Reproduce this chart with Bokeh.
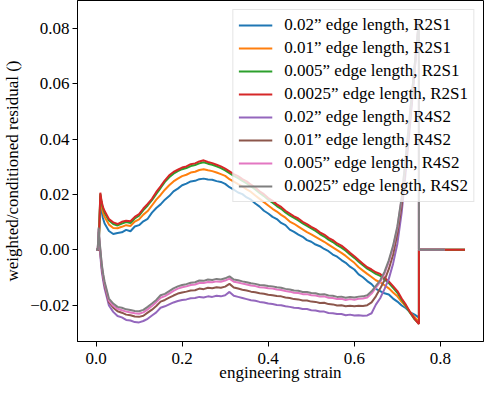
from bokeh.plotting import figure
from bokeh.models import FixedTicker, CustomJSTickFormatter, Range1d
from bokeh.embed import file_html
from bokeh.resources import INLINE

# ---------------- data ----------------
x_ticks = [0.0, 0.2, 0.4, 0.6, 0.8]
y_ticks = [-0.02, 0.0, 0.02, 0.04, 0.06, 0.08]

x_main = [0.02, 0.03, 0.04, 0.05, 0.06, 0.07, 0.08, 0.09, 0.10, 0.11, 0.12, 0.13,
          0.14, 0.15, 0.16, 0.17, 0.18, 0.19, 0.20, 0.21, 0.22, 0.23, 0.24, 0.25,
          0.26, 0.27, 0.28, 0.29, 0.30, 0.31, 0.32, 0.33, 0.34, 0.35, 0.36, 0.37,
          0.38, 0.39, 0.40, 0.41, 0.42, 0.43, 0.44, 0.45, 0.46, 0.47, 0.48, 0.49,
          0.50, 0.51, 0.52, 0.53, 0.54, 0.55, 0.56, 0.57, 0.58, 0.59, 0.60, 0.61,
          0.62, 0.63, 0.64, 0.65, 0.66, 0.67, 0.68, 0.69, 0.70, 0.71, 0.72, 0.73, 0.74]

x_r2s1 = [0.0, 0.006, 0.010, 0.013, 0.016] + x_main + [0.75, 0.75, 0.857]
x_r4s2 = [0.0, 0.004, 0.006, 0.009, 0.0135, 0.017] + x_main + [0.75, 0.75, 0.81]

x_label = "engineering strain"
y_label = "weighted/conditioned residual ()"
labels = ["0.02\u201d edge length, R2S1", "0.01\u201d edge length, R2S1",
          "0.005\u201d edge length, R2S1", "0.0025\u201d edge length, R2S1",
          "0.02\u201d edge length, R4S2", "0.01\u201d edge length, R4S2",
          "0.005\u201d edge length, R4S2", "0.0025\u201d edge length, R4S2"]

r2s1_002 = [0, 0, 0.0185, 0.0140, 0.0115,
    0.0095, 0.0068, 0.0057, 0.0061, 0.0063, 0.0072, 0.0067, 0.0084, 0.0089, 0.0103, 0.0112, 0.0134,
    0.0151, 0.0164, 0.0181, 0.0194, 0.0211, 0.0221, 0.0233, 0.0239, 0.0247, 0.0249, 0.0255, 0.0257,
    0.0254, 0.0253, 0.0248, 0.0245, 0.0238, 0.0226, 0.0217, 0.0207, 0.0201, 0.0189, 0.0181, 0.0167,
    0.0156, 0.0141, 0.0131, 0.0119, 0.0111, 0.0097, 0.0089, 0.0073, 0.0065, 0.0055, 0.0047, 0.0035,
    0.0029, 0.0019, 0.0013, 0.0003, -0.0005, -0.0017, -0.0025, -0.0037, -0.0047, -0.0061, -0.0071, -0.0089,
    -0.0099, -0.0113, -0.0124, -0.0141, -0.0149, -0.0157, -0.0161, -0.0176, -0.0187, -0.0201, -0.0211, -0.0226, -0.0234,
    -0.0245, 0, 0]
r2s1_001 = [0, 0, 0.0195, 0.0158, 0.0135,
    0.0118, 0.0091, 0.0079, 0.0078, 0.0083, 0.0089, 0.0086, 0.0102, 0.0110, 0.0127, 0.0140, 0.0160,
    0.0181, 0.0198, 0.0217, 0.0233, 0.0247, 0.0257, 0.0266, 0.0271, 0.0279, 0.0282, 0.0288, 0.0291,
    0.0287, 0.0284, 0.0279, 0.0273, 0.0267, 0.0255, 0.0246, 0.0237, 0.0229, 0.0218, 0.0209, 0.0196,
    0.0184, 0.0172, 0.0160, 0.0148, 0.0138, 0.0126, 0.0116, 0.0102, 0.0094, 0.0084, 0.0074, 0.0064,
    0.0056, 0.0047, 0.0038, 0.0029, 0.0019, 0.0009, -0.0001, -0.0011, -0.0022, -0.0035, -0.0047, -0.0063,
    -0.0075, -0.0087, -0.0098, -0.0110, -0.0117, -0.0128, -0.0139, -0.0154, -0.0168, -0.0188, -0.0205, -0.0226, -0.0243,
    -0.0260, 0, 0]
r2s1_0005 = [0, 0, 0.0202, 0.0170, 0.0150,
    0.0134, 0.0106, 0.0093, 0.0088, 0.0095, 0.0100, 0.0097, 0.0113, 0.0123, 0.0143, 0.0160, 0.0179,
    0.0202, 0.0223, 0.0245, 0.0262, 0.0275, 0.0284, 0.0291, 0.0295, 0.0302, 0.0306, 0.0312, 0.0316,
    0.0311, 0.0307, 0.0301, 0.0295, 0.0287, 0.0277, 0.0267, 0.0259, 0.0249, 0.0240, 0.0229, 0.0218,
    0.0205, 0.0194, 0.0181, 0.0170, 0.0158, 0.0148, 0.0135, 0.0124, 0.0115, 0.0106, 0.0095, 0.0086,
    0.0077, 0.0068, 0.0057, 0.0048, 0.0037, 0.0028, 0.0017, 0.0008, -0.0003, -0.0017, -0.0029, -0.0043,
    -0.0056, -0.0068, -0.0077, -0.0087, -0.0094, -0.0107, -0.0120, -0.0137, -0.0155, -0.0180, -0.0203, -0.0229, -0.0251,
    -0.0267, 0, 0]
r2s1_00025 = [0, 0, 0.0206, 0.0175, 0.0155,
    0.0140, 0.0111, 0.0099, 0.0093, 0.0101, 0.0105, 0.0103, 0.0119, 0.0129, 0.0149, 0.0166, 0.0184,
    0.0209, 0.0229, 0.0251, 0.0269, 0.0281, 0.0289, 0.0297, 0.0301, 0.0309, 0.0312, 0.0319, 0.0323,
    0.0317, 0.0313, 0.0307, 0.0301, 0.0293, 0.0283, 0.0273, 0.0266, 0.0255, 0.0247, 0.0235, 0.0225,
    0.0211, 0.0201, 0.0187, 0.0177, 0.0164, 0.0155, 0.0141, 0.0131, 0.0121, 0.0113, 0.0101, 0.0093,
    0.0083, 0.0075, 0.0063, 0.0055, 0.0043, 0.0035, 0.0023, 0.0015, 0.0003, -0.0011, -0.0023, -0.0037,
    -0.0050, -0.0063, -0.0071, -0.0081, -0.0087, -0.0101, -0.0114, -0.0131, -0.0149, -0.0176, -0.0199, -0.0226, -0.0249,
    -0.0268, 0, 0]

r4s2_002 = [0, 0, 0.0050, -0.0005, -0.0080, -0.0115,
    -0.0140, -0.0201, -0.0224, -0.0239, -0.0244, -0.0253, -0.0255, -0.0261, -0.0262, -0.0257, -0.0249, -0.0237,
    -0.0226, -0.0209, -0.0204, -0.0197, -0.0190, -0.0185, -0.0181, -0.0179, -0.0175, -0.0174, -0.0170, -0.0172,
    -0.0168, -0.0170, -0.0166, -0.0168, -0.0164, -0.0152, -0.0166, -0.0170, -0.0174, -0.0178, -0.0182, -0.0184,
    -0.0188, -0.0190, -0.0194, -0.0196, -0.0199, -0.0200, -0.0204, -0.0206, -0.0209, -0.0210, -0.0214, -0.0214,
    -0.0218, -0.0219, -0.0223, -0.0223, -0.0228, -0.0229, -0.0232, -0.0232, -0.0236, -0.0234, -0.0237, -0.0236,
    -0.0238, -0.0237, -0.0229, -0.0198, -0.0175, -0.0142, -0.0105, -0.0050, 0.0022, 0.0135, 0.0290, 0.0460, 0.0640,
    0.0820, 0, 0]
r4s2_001 = [0, 0, 0.0065, 0.0008, -0.0067, -0.0102,
    -0.0128, -0.0189, -0.0209, -0.0222, -0.0227, -0.0234, -0.0236, -0.0241, -0.0242, -0.0238, -0.0227, -0.0216,
    -0.0203, -0.0187, -0.0181, -0.0173, -0.0165, -0.0158, -0.0154, -0.0151, -0.0147, -0.0146, -0.0140, -0.0142,
    -0.0137, -0.0139, -0.0135, -0.0137, -0.0133, -0.0123, -0.0136, -0.0140, -0.0144, -0.0147, -0.0151, -0.0153,
    -0.0157, -0.0159, -0.0162, -0.0164, -0.0167, -0.0168, -0.0172, -0.0174, -0.0178, -0.0179, -0.0183, -0.0183,
    -0.0187, -0.0188, -0.0192, -0.0191, -0.0196, -0.0197, -0.0201, -0.0200, -0.0204, -0.0202, -0.0204, -0.0202,
    -0.0203, -0.0200, -0.0190, -0.0168, -0.0140, -0.0110, -0.0070, -0.0018, 0.0058, 0.0160, 0.0315, 0.0480, 0.0652,
    0.0825, 0, 0]
r4s2_0005 = [0, 0, 0.0075, 0.0015, -0.0060, -0.0096,
    -0.0122, -0.0183, -0.0202, -0.0213, -0.0218, -0.0223, -0.0226, -0.0229, -0.0231, -0.0226, -0.0215, -0.0203,
    -0.0189, -0.0173, -0.0167, -0.0158, -0.0148, -0.0140, -0.0135, -0.0132, -0.0127, -0.0125, -0.0120, -0.0120,
    -0.0116, -0.0117, -0.0114, -0.0115, -0.0111, -0.0104, -0.0115, -0.0118, -0.0122, -0.0125, -0.0129, -0.0131,
    -0.0135, -0.0136, -0.0139, -0.0140, -0.0143, -0.0145, -0.0149, -0.0151, -0.0155, -0.0156, -0.0160, -0.0160,
    -0.0164, -0.0165, -0.0169, -0.0168, -0.0173, -0.0174, -0.0178, -0.0177, -0.0181, -0.0178, -0.0180, -0.0177,
    -0.0176, -0.0172, -0.0158, -0.0137, -0.0116, -0.0086, -0.0044, 0.0009, 0.0080, 0.0185, 0.0340, 0.0500, 0.0662,
    0.0828, 0, 0]
r4s2_00025 = [0, 0, 0.0080, 0.0020, -0.0054, -0.0090,
    -0.0115, -0.0176, -0.0194, -0.0206, -0.0209, -0.0215, -0.0217, -0.0221, -0.0222, -0.0217, -0.0206, -0.0194,
    -0.0181, -0.0164, -0.0159, -0.0149, -0.0139, -0.0132, -0.0127, -0.0124, -0.0119, -0.0117, -0.0111, -0.0112,
    -0.0107, -0.0109, -0.0105, -0.0107, -0.0103, -0.0096, -0.0107, -0.0110, -0.0114, -0.0117, -0.0121, -0.0123,
    -0.0127, -0.0128, -0.0131, -0.0132, -0.0135, -0.0137, -0.0141, -0.0143, -0.0147, -0.0148, -0.0152, -0.0152,
    -0.0156, -0.0157, -0.0161, -0.0160, -0.0165, -0.0166, -0.0170, -0.0169, -0.0173, -0.0170, -0.0172, -0.0169,
    -0.0168, -0.0164, -0.0150, -0.0130, -0.0110, -0.0080, -0.0038, 0.0015, 0.0085, 0.0190, 0.0345, 0.0505, 0.0665,
    0.0830, 0, 0]

colors = ["#1f77b4", "#ff7f0e", "#2ca02c", "#d62728",
          "#9467bd", "#8c564b", "#e377c2", "#7f7f7f"]

# ---------------- figure ----------------
FONT = "'Liberation Serif', 'DejaVu Serif', serif"
FS = "17px"

p = figure(width=484, height=384, output_backend="svg", toolbar_location=None,
           x_range=Range1d(-0.043, 0.9), y_range=Range1d(-0.0331, 0.0900),
           min_border_left=70, min_border_right=1, min_border_top=0, min_border_bottom=36)
p.xgrid.visible = False
p.ygrid.visible = False
p.outline_line_color = "black"
p.outline_line_width = 1
p.outline_line_alpha = 1
p.background_fill_color = "white"

series = [(x_r2s1, r2s1_002), (x_r2s1, r2s1_001), (x_r2s1, r2s1_0005), (x_r2s1, r2s1_00025),
          (x_r4s2, r4s2_002), (x_r4s2, r4s2_001), (x_r4s2, r4s2_0005), (x_r4s2, r4s2_00025)]
for (xs, ys), c, lab in zip(series, colors, labels):
    p.line(xs, ys, line_color=c, line_width=2, legend_label=lab)

p.xaxis.ticker = FixedTicker(ticks=x_ticks)
p.yaxis.ticker = FixedTicker(ticks=y_ticks)
p.xaxis.formatter = CustomJSTickFormatter(code="return tick.toFixed(1);")
p.yaxis.formatter = CustomJSTickFormatter(
    code="var s = Math.abs(tick).toFixed(2); return (tick < -1e-9 ? '\u2212' : '') + s;")
for ax in (p.xaxis[0], p.yaxis[0]):
    ax.major_label_text_font = FONT
    ax.major_label_text_font_size = FS
    ax.major_label_text_color = "black"
    ax.major_label_text_line_height = 1.0
    ax.axis_label_text_font = FONT
    ax.axis_label_text_font_size = FS
    ax.axis_label_text_font_style = "normal"
    ax.axis_label_text_color = "black"
    ax.axis_label_text_line_height = 1.0
    ax.major_tick_in = 0
    ax.major_tick_out = 5
    ax.major_tick_line_color = "black"
    ax.minor_tick_line_color = None
    ax.axis_line_color = "black"
p.xaxis.major_label_standoff = 6
p.xaxis.axis_label_standoff = -4
p.yaxis.major_label_standoff = 3
p.yaxis.axis_label_standoff = 5
p.xaxis.axis_label = x_label
p.yaxis.axis_label = y_label

lg = p.legend[0]
lg.location = "top_right"
lg.margin = 9
lg.padding = 5
lg.spacing = 3
lg.label_height = 18
lg.glyph_height = 18
lg.glyph_width = 34
lg.label_standoff = 12
lg.label_text_font = FONT
lg.label_text_font_size = FS
lg.label_text_line_height = 1.0
lg.label_text_color = "black"
lg.border_line_color = "#cccccc"
lg.border_line_width = 1
lg.background_fill_alpha = 0.8

open("out.html", "w").write(file_html(p, INLINE))
